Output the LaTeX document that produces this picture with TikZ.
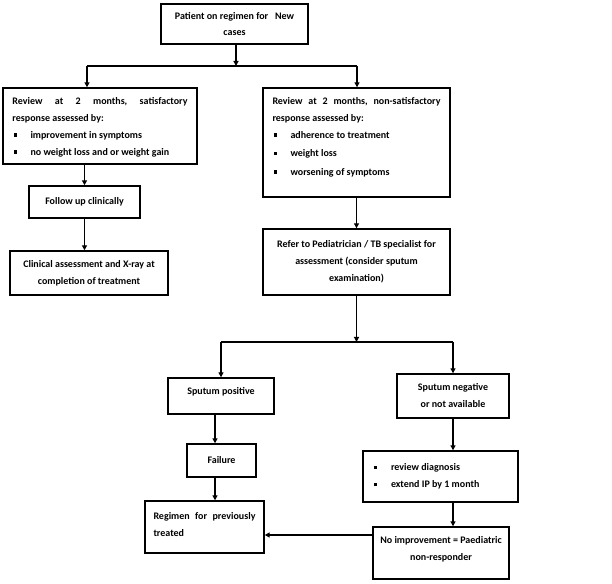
\documentclass[tikz,border=0pt]{standalone}
\usepackage{fontspec}
\setmainfont{Carlito}
\usetikzlibrary{arrows.meta}
\tikzset{
  box/.style={draw, line width=1.4pt, inner sep=0pt, font=\fontsize{10}{17}\bfseries\selectfont},
  arr/.style={line width=1.2pt, -{Triangle[length=5pt,width=5pt]}},
  ln/.style={line width=1.2pt},
}
\newcommand{\bul}{\makebox[18pt][l]{\hspace{1pt}\rule[1.5pt]{3pt}{3.5pt}}}
\begin{document}
\begin{tikzpicture}[x=1pt,y=1pt]
\useasboundingbox (0,0) rectangle (612,583);
\node[box, minimum width=147pt, minimum height=40pt, align=center, font=\fontsize{10}{15.5}\bfseries\selectfont] (top) at (234.5,559) {Patient on regimen for\ \ \ New\\cases};
\node[box, minimum width=194pt, minimum height=76pt] (revL) at (100,457) {\parbox[c][58pt][t]{175pt}{Review\hfill at\hfill 2\hfill months,\hfill satisfactory\\response assessed by:\\\bul improvement in symptoms\\\bul no weight loss and or weight gain}};
\node[box, minimum width=187pt, minimum height=109pt] (revR) at (356.5,440.5) {\parbox[c][91pt][t]{168pt}{Review\hfill at\hfill 2\hfill months,\hfill non-satisfactory\\response assessed by:\\\bul adherence to treatment\\[1.5pt]\bul weight loss\\[1.5pt]\bul worsening of symptoms}};
\node[box, minimum width=111pt, minimum height=32pt] (follow) at (84.5,381) {Follow up clinically};
\node[box, minimum width=158pt, minimum height=44pt, align=center] (clin) at (89,310) {Clinical assessment and X-ray at\\completion of treatment};
\node[box, minimum width=187pt, minimum height=66pt, align=center] (refer) at (356.5,321) {Refer to Pediatrician / TB specialist for\\assessment (consider sputum\\examination)};
\node[box, minimum width=106pt, minimum height=36pt, text height=7pt, text depth=10pt] (spos) at (221,187) {Sputum positive};
\node[box, minimum width=112pt, minimum height=44pt, align=center] (sneg) at (453,187) {Sputum negative\\or not available};
\node[box, minimum width=69pt, minimum height=33pt] (fail) at (221.5,122.5) {Failure};
\node[box, minimum width=119pt, minimum height=52pt] (reg) at (204.5,56) {\parbox[c][30pt][t]{102pt}{Regimen\hfill for\hfill previously\\treated}};
\node[box, minimum width=155pt, minimum height=51pt] (diag) at (440.5,106.5) {\parbox{135pt}{\bul review diagnosis\\\bul extend IP by 1 month}};
\node[box, minimum width=136pt, minimum height=52pt] (noimp) at (441,30) {\parbox[c][34pt][t]{130pt}{\centering No improvement = Paediatric\\non-responder}};
% connectors
\coordinate (j1) at (236,517);
\coordinate (j1l) at (87,517);
\coordinate (j1r) at (357,517);
\draw[arr] (top.south -| j1) -- (j1);
\draw[ln] (j1l) -- (j1r);
\draw[arr] (j1l) -- (j1l |- revL.north);
\draw[arr] (j1r) -- (j1r |- revR.north);
\draw[arr] (revL.south -| follow) -- (follow.north);
\draw[arr] (follow.south) -- (follow.south |- clin.north);
\draw[arr] (revR.south) -- (refer.north);
\coordinate (j2) at (356.5,241);
\coordinate (j2l) at (221,241);
\coordinate (j2r) at (453,241);
\draw[arr] (refer.south) -- (j2);
\draw[ln] (j2l) -- (j2r);
\draw[arr] (j2l) -- (spos.north);
\draw[arr] (j2r) -- (sneg.north);
\draw[arr] ([xshift=-6pt]spos.south) -- ([xshift=-6pt]spos.south |- fail.north);
\draw[arr] ([xshift=-6.5pt]fail.south) -- ([xshift=-6.5pt]fail.south |- reg.north);
\draw[arr] (sneg.south) -- (sneg.south |- diag.north);
\draw[arr] (sneg.south |- diag.south) -- (sneg.south |- noimp.north);
\draw[arr] ([yshift=18pt]noimp.west) -- ([yshift=18pt]noimp.west -| reg.east);
\end{tikzpicture}
\end{document}
